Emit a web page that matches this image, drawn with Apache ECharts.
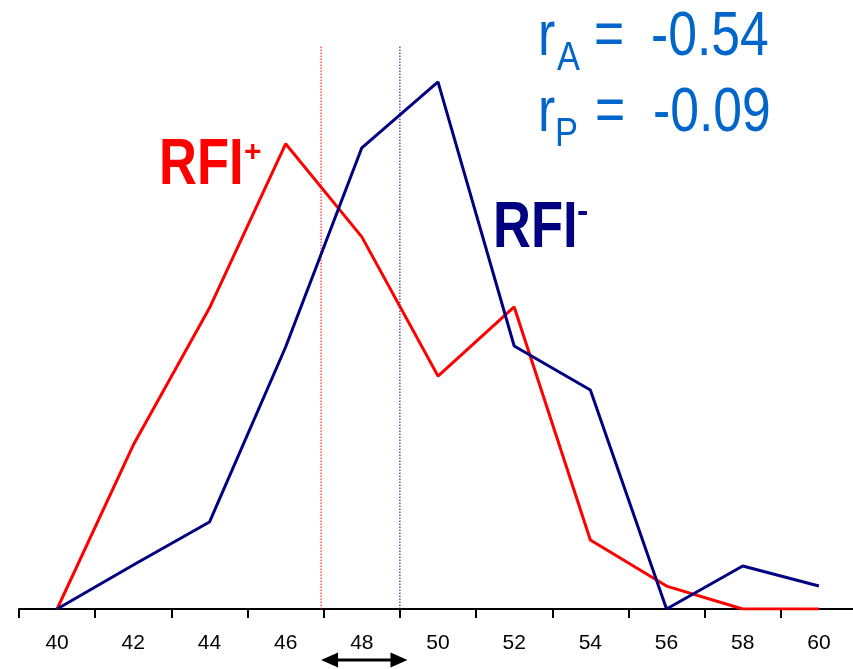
<!DOCTYPE html>
<html>
<head>
<meta charset="utf-8">
<script src="https://cdn.jsdelivr.net/npm/echarts@6/dist/echarts.min.js"></script>
<style>
  html, body { margin: 0; padding: 0; background: #fff; overflow: hidden; }
  #chart { width: 860px; height: 669px; }
</style>
</head>
<body>
<div id="chart"></div>
<script>
// Categories on the x axis
const categories = ['40', '42', '44', '46', '48', '50', '52', '54', '56', '58', '60'];
// Frequency (%) per class
const rfiPlus  = [0, 6.22, 11.42, 17.65, 14.12, 8.84, 11.46, 2.62, 0.87, 0, 0];
const rfiMinus = [0, 1.67, 3.30, 9.94, 17.50, 20.0, 9.98, 8.31, 0, 1.63, 0.87];
// Group means
const meanPlus = 46.93;
const meanMinus = 49.0;
const meanLineTop = 21.4;
// Span of the double arrow under the axis
const arrowFrom = 46.93;
const arrowTo = 49.2;
// Correlation labels
const rA = '-0.54';
const rP = '-0.09';

const RED = '#ff0000';
const NAVY = '#000080';
const BLUE = '#0066cc';
const FONT = '"Liberation Sans", Arial, sans-serif';

const chart = echarts.init(document.getElementById('chart'), null, { renderer: 'canvas' });

function bigText(text, x, y, size, color, bold, sx) {
  return {
    type: 'text', x: x, y: y, scaleX: sx, z: 10,
    style: {
      text: text, fill: color,
      font: (bold ? 'bold ' : '') + size + 'px ' + FONT,
      align: 'left', verticalAlign: 'middle'
    }
  };
}

const option = {
  animation: false,
  backgroundColor: '#ffffff',
  grid: { left: 19, width: 838, top: 16, bottom: 60 },
  xAxis: [
    {
      type: 'category',
      data: categories,
      boundaryGap: true,
      axisLine: { lineStyle: { color: '#000', width: 2 } },
      axisTick: { show: true, length: 9, lineStyle: { color: '#000', width: 2 } },
      axisLabel: { color: '#000', fontSize: 21, fontFamily: FONT, margin: 24, interval: 0 },
      splitLine: { show: false }
    },
    {
      type: 'value', min: 39, max: 61, show: false,
      splitLine: { show: false }
    }
  ],
  yAxis: {
    type: 'value', min: 0, max: 22.5, show: false,
    splitLine: { show: false }
  },
  series: [
    {
      type: 'line', xAxisIndex: 1, symbol: 'none', silent: true, z: 1,
      data: [[meanPlus, 0], [meanPlus, meanLineTop]],
      lineStyle: { color: RED, width: 1, type: [1.5, 1.5] }
    },
    {
      type: 'line', xAxisIndex: 1, symbol: 'none', silent: true, z: 1,
      data: [[meanMinus, 0], [meanMinus, meanLineTop]],
      lineStyle: { color: NAVY, width: 1, type: [1.5, 1.5] }
    },
    {
      name: 'RFI+', type: 'line', xAxisIndex: 0, symbol: 'none', z: 3,
      data: rfiPlus,
      lineStyle: { color: RED, width: 3 }
    },
    {
      name: 'RFI-', type: 'line', xAxisIndex: 0, symbol: 'none', z: 4,
      data: rfiMinus,
      lineStyle: { color: NAVY, width: 3 }
    }
  ]
};
chart.setOption(option);

// Annotations: group labels, correlations and the arrow between the two means
const x1 = chart.convertToPixel({ xAxisIndex: 1 }, arrowFrom);
const x2 = chart.convertToPixel({ xAxisIndex: 1 }, arrowTo);
const ay = 660, head = 17, half = 7.5;

chart.setOption({
  graphic: [
    bigText('RFI', 159, 166, 64, RED, true, 0.82),
    bigText('+', 244, 153, 30, RED, true, 1),
    bigText('RFI', 493, 229, 64, NAVY, true, 0.82),
    bigText('-', 577, 213, 34, NAVY, true, 1),

    bigText('r', 538, 38, 63, BLUE, false, 0.82),
    bigText('A', 557, 59, 41, BLUE, false, 0.84),
    bigText('=', 594, 38, 63, BLUE, false, 0.82),
    bigText(rA, 651, 38, 63, BLUE, false, 0.82),

    bigText('r', 538, 114, 63, BLUE, false, 0.82),
    bigText('P', 555, 135, 41, BLUE, false, 0.84),
    bigText('=', 595, 114, 63, BLUE, false, 0.82),
    bigText(rP, 653, 114, 63, BLUE, false, 0.82),

    {
      type: 'line', z: 10,
      shape: { x1: x1 + head - 2, y1: ay, x2: x2 - head + 2, y2: ay },
      style: { stroke: '#000', lineWidth: 3 }
    },
    {
      type: 'polygon', z: 10,
      shape: { points: [[x1, ay], [x1 + head, ay - half], [x1 + head, ay + half]] },
      style: { fill: '#000' }
    },
    {
      type: 'polygon', z: 10,
      shape: { points: [[x2, ay], [x2 - head, ay - half], [x2 - head, ay + half]] },
      style: { fill: '#000' }
    }
  ]
});
</script>
</body>
</html>
